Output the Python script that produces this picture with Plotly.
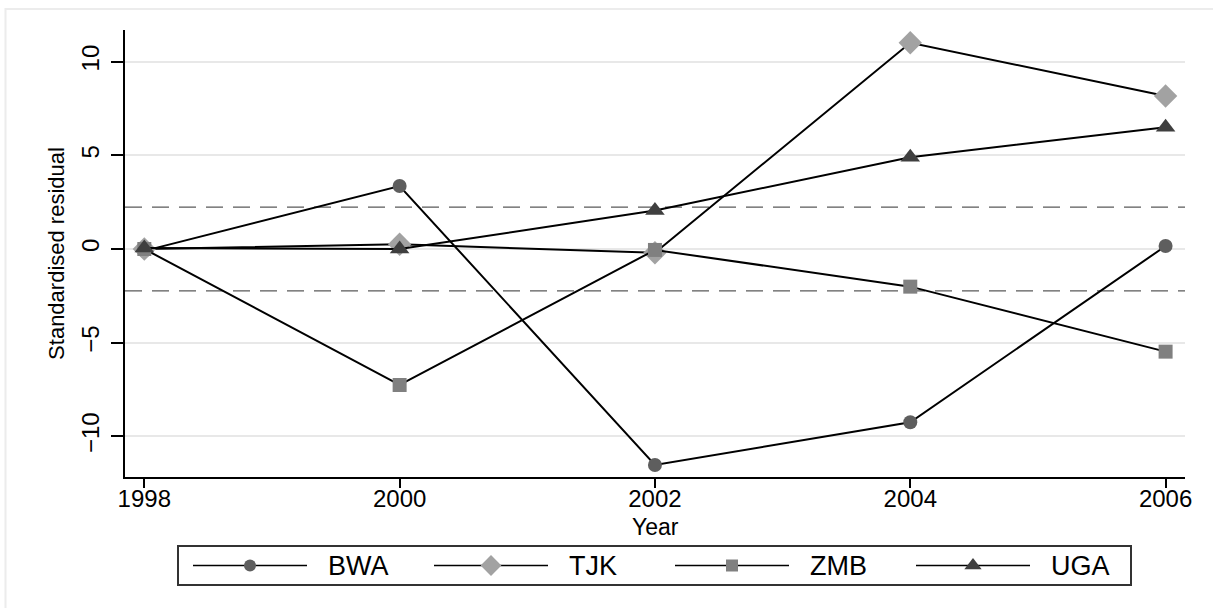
import plotly.graph_objects as go

# Standardised residuals by country and survey year
years = [1998, 2000, 2002, 2004, 2006]
countries = ["BWA", "TJK", "ZMB", "UGA"]
bwa = [-0.1, 3.36, -11.53, -9.25, 0.16]
tjk = [0.0, 0.25, -0.2, 11.01, 8.17]
zmb = [0.0, -7.26, -0.05, -2.01, -5.48]
uga = [0.05, 0.0, 2.05, 4.9, 6.5]
bounds = [-2.24, 2.24]
y_ticks = [-10, -5, 0, 5, 10]

series = [bwa, tjk, zmb, uga]
symbols = ["circle", "diamond", "square", "triangle-up"]
marker_colors = ["#5e5e5e", "#a2a2a2", "#808080", "#3f3f3f"]
marker_sizes = [14, 18, 14, 17]

W, H = 1213, 608
L, R, T, B = 125, 1185, 30, 477
FONT = "Liberation Sans, Arial, sans-serif"


def fx(px):
    return px / W


def fy(py):
    return 1 - py / H


fig = go.Figure()

for name, vals, sym, col, sz in zip(countries, series, symbols, marker_colors, marker_sizes):
    fig.add_trace(go.Scatter(
        x=years, y=vals, name=name, mode="lines+markers",
        line=dict(color="black", width=2),
        marker=dict(symbol=sym, color=col, size=sz, line=dict(width=0)),
        showlegend=False, cliponaxis=False,
    ))

# Legend keys drawn on a hidden overlay axis spanning the legend box (pixel units)
box_x0, box_x1, box_y0, box_y1 = 178, 1131, 546, 585
for i, (name, sym, col, sz) in enumerate(zip(countries, symbols, marker_colors, marker_sizes)):
    x0 = 193 + i * 241
    fig.add_trace(go.Scatter(
        x=[x0, x0 + 114], y=[0.5, 0.5], mode="lines",
        line=dict(color="black", width=1.6),
        xaxis="x2", yaxis="y2", showlegend=False, hoverinfo="skip",
    ))
    fig.add_trace(go.Scatter(
        x=[x0 + 57], y=[0.5], mode="markers",
        marker=dict(symbol=sym, color=col, size=sz - 2, line=dict(width=0)),
        xaxis="x2", yaxis="y2", showlegend=False, hoverinfo="skip",
    ))
    fig.add_annotation(
        x=x0 + 133, y=0.5, xref="x2", yref="y2", text=name,
        showarrow=False, xanchor="left", yanchor="middle",
        font=dict(family=FONT, size=27, color="black"),
    )

# X-axis title placed just under the year labels
fig.add_annotation(
    x=fx(655), y=fy(527), xref="paper", yref="paper", text="Year",
    showarrow=False, xanchor="center", yanchor="middle",
    font=dict(family=FONT, size=23, color="black"),
)

shapes = []
for b in bounds:
    shapes.append(dict(
        type="line", xref="x domain", yref="y", x0=0, x1=1, y0=b, y1=b,
        line=dict(color="#5a5a5a", width=1.2, dash="17px,10px"), layer="below",
    ))
# Legend frame
shapes.append(dict(
    type="rect", xref="paper", yref="paper",
    x0=fx(box_x0), x1=fx(box_x1), y0=fy(box_y1), y1=fy(box_y0),
    line=dict(color="#333333", width=2), fillcolor="rgba(0,0,0,0)",
))
# Outer graph-region frame
shapes.append(dict(
    type="rect", xref="paper", yref="paper",
    x0=fx(5.5), x1=1.02, y0=-0.02, y1=fy(9),
    line=dict(color="#ececec", width=2), fillcolor="rgba(0,0,0,0)", layer="below",
))

ylo = -(B - 249) / 18.73
yhi = (249 - T) / 18.73
px_per_year = 127.6
xlo = 1998 - (144.3 - L) / px_per_year
xhi = 2006 + (R - 1165.6) / px_per_year

fig.update_layout(
    width=W, height=H,
    margin=dict(l=0, r=0, t=0, b=0),
    paper_bgcolor="white", plot_bgcolor="white",
    font=dict(family=FONT, color="black"),
    shapes=shapes,
    xaxis=dict(
        domain=[fx(L), fx(R)],
        range=[xlo, xhi], tickvals=years, ticktext=[str(y) for y in years],
        showgrid=False, zeroline=False,
        showline=True, linecolor="black", linewidth=1.8,
        ticks="outside", ticklen=9, tickwidth=1.5, tickcolor="black",
        tickfont=dict(size=24, family=FONT), ticklabelstandoff=-10,
        automargin=False,
    ),
    yaxis=dict(
        domain=[fy(B), fy(T)],
        range=[ylo, yhi], tickvals=y_ticks, tickangle=-90,
        showgrid=True, gridcolor="#e8e8e8", gridwidth=1.6, zeroline=False,
        showline=True, linecolor="black", linewidth=1.8,
        ticks="outside", ticklen=12, tickwidth=1.5, tickcolor="black",
        tickfont=dict(size=24, family=FONT), ticklabelstandoff=3,
        title=dict(text="Standardised residual", font=dict(size=22, family=FONT), standoff=6),
        automargin=False,
    ),
    xaxis2=dict(
        domain=[0, 1], range=[0, W], visible=False, fixedrange=True, anchor="y2",
    ),
    yaxis2=dict(
        domain=[fy(box_y1), fy(box_y0)], range=[0, 1],
        visible=False, fixedrange=True, anchor="x2",
    ),
)

fig.write_html("out.html")
